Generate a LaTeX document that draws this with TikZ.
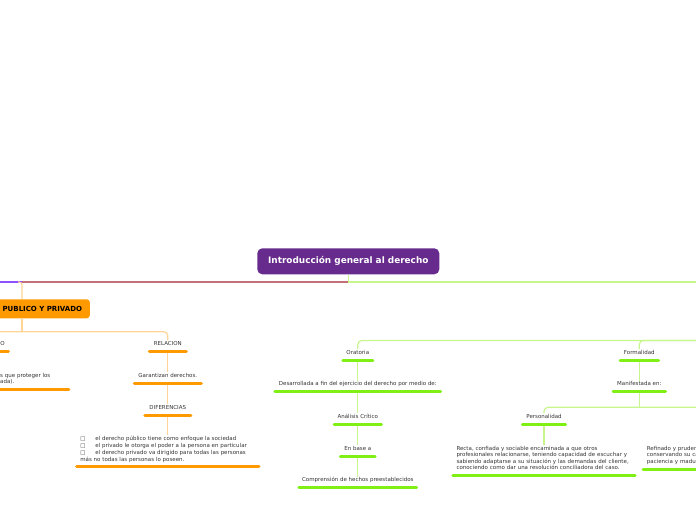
\documentclass[tikz,border=0pt]{standalone}
\usepackage{fontspec}
\setmainfont{DejaVu Sans}
\definecolor{mainpurple}{RGB}{102,43,140}
\definecolor{ulorange}{RGB}{255,153,0}
\definecolor{lorange}{RGB}{255,212,150}
\definecolor{ulgreen}{RGB}{128,240,20}
\definecolor{lgreen}{RGB}{198,246,140}
\definecolor{redline}{RGB}{196,112,122}
\definecolor{violetline}{RGB}{140,82,255}
\definecolor{txt}{RGB}{51,51,51}
\newcommand{\dstrut}{\rule[-4.4pt]{0pt}{0pt}}
\newcommand{\bx}{\makebox[15pt][l]{□}}
\tikzset{
  lbl/.style={font=\fontsize{5.5}{6.6}\selectfont, text=txt, anchor=south, inner xsep=0pt, inner ysep=1.2pt, text height=3.8pt, text depth=4.4pt, align=center},
  para/.style={font=\fontsize{5.5}{#1}\selectfont, text=txt, anchor=south, inner xsep=5pt, inner ysep=1.2pt, align=left},
  oul/.style={append after command={(\tikzlastnode.south west) edge[draw=ulorange, line width=3pt, line cap=round, shorten <=1.5pt, shorten >=1.5pt] (\tikzlastnode.south east)}},
  gul/.style={append after command={(\tikzlastnode.south west) edge[draw=ulgreen, line width=3pt, line cap=round, shorten <=1.5pt, shorten >=1.5pt] (\tikzlastnode.south east)}},
  oconn/.style={draw=lorange, line width=1.2pt},
  gconn/.style={draw=lgreen, line width=1.2pt},
  titlebox/.style={fill=mainpurple, rounded corners=5pt, text=white, font=\bfseries\fontsize{8.9}{10}\selectfont, minimum width=182pt, minimum height=26pt, inner sep=0pt},
  orangebox/.style={fill=ulorange, rounded corners=3pt, text=black, font=\bfseries\fontsize{7}{8}\selectfont, minimum height=19pt, inner xsep=7.7pt, inner ysep=0pt},
}
\begin{document}
\begin{tikzpicture}[x=1pt,y=-1pt]
\useasboundingbox (0,0) rectangle (696,520);
\clip (0,0) rectangle (696,520);

% main
\node[titlebox] (main) at (348.3,261.3) {Introducción general al derecho};
\coordinate (hl) at (0,282);
\coordinate (J) at (main.south |- hl);
\coordinate (K) at (22,282);
\coordinate (Lend) at (-3,282);
\coordinate (Rend) at (700,282);

% orange branch nodes
\node[orangebox, anchor=east] (pp) at (90,308.8) {PUBLICO Y PRIVADO};
\node[lbl, oul, anchor=south east, inner xsep=5pt] (lo) at (10,351.5) {O};
\node[para=6.5, oul, anchor=south west, text width=65pt] (ls) at (-5,389.7) {s que proteger los\\ada).\dstrut};
\node[lbl, oul, minimum width=39.7pt] (rel) at (167.8,351.3) {RELACION};
\node[lbl, oul, minimum width=69.7pt] (gar) at (167.8,383.3) {Garantizan derechos.};
\node[lbl, oul, minimum width=48.7pt] (dif) at (167.8,415.3) {DIFERENCIAS};
\node[para=6.9, oul, text width=175pt] (dl) at (167.8,466.9) {\bx el derecho público tiene como enfoque la sociedad\\\bx el privado le otorga el poder a la persona en particular\\\bx el derecho privado va dirigido para todas las personas\\más no todas las personas lo poseen.\dstrut};

% green branch nodes
\node[lbl, gul, minimum width=32.6pt] (ora) at (357.8,360) {Oratoria};
\node[lbl, gul, minimum width=168.4pt] (des) at (357.8,391.7) {Desarrollada a fin del ejercicio del derecho por medio de:};
\node[lbl, gul, minimum width=50pt] (ana) at (357.8,424.3) {Análisis Crítico};
\node[lbl, gul, minimum width=37.4pt] (enb) at (357.8,456) {En base a};
\node[lbl, gul, minimum width=120.4pt] (com) at (357.8,487.7) {Comprensión de hechos preestablecidos};
\node[lbl, gul, minimum width=41pt] (for) at (639.3,360) {Formalidad};
\node[lbl, gul, minimum width=55pt] (man) at (639.3,391.7) {Manifestada en:};
\node[lbl, gul, minimum width=45.7pt] (per) at (544,424.3) {Personalidad};
\node[para=6.4, gul, text width=175pt] (rec) at (544,475.3) {Recta, confiada y sociable encaminada a que otros\\profesionales relacionarse, teniendo capacidad de escuchar y\\sabiendo adaptarse a su situación y las demandas del cliente,\\conociendo como dar una resolución conciliadora del caso.\dstrut};
\node[para=6.6, gul, anchor=south west, text width=100pt] (rf) at (641.7,469) {Refinado y prudente,\\conservando su calma,\\paciencia y madurez.\dstrut};

% main horizontal line
\draw[gconn] (J) -- (Rend);
\draw[draw=redline, line width=1.2pt] (J) -- (K);
\draw[draw=violetline, line width=1.2pt] (K) -- (Lend);
\draw[gconn] (main.south) -- (J);

% orange connectors
\draw[oconn, rounded corners=3pt] ([shift={(-4,0)}]K) -| (K |- pp.north);
\coordinate (H1) at (22,331.7);
\coordinate (HL) at (-3,331.7);
\draw[oconn] (K |- pp.south) -- (H1);
\draw[oconn, rounded corners=4pt] (HL) -| (rel.north);
\draw[oconn, shorten <=1.5pt] (rel.south) -- (gar.north);
\draw[oconn, shorten <=1.5pt] (gar.south) -- (dif.north);
\draw[oconn, shorten <=1.5pt] (dif.south) -- (dl.north);

% green connectors
\coordinate (G1) at (700,340.5);
\coordinate (G2) at (700,407.3);
\draw[gconn, rounded corners=4pt] (G1) -| (ora.north);
\draw[gconn, rounded corners=4pt] (G1) -| (for.north);
\draw[gconn, shorten <=1.5pt] (ora.south) -- (des.north);
\draw[gconn, shorten <=1.5pt] (des.south) -- (ana.north);
\draw[gconn, shorten <=1.5pt] (ana.south) -- (enb.north);
\draw[gconn, shorten <=1.5pt] (enb.south) -- (com.north);
\draw[gconn, shorten <=1.5pt] (for.south) -- (man.north);
\draw[gconn, shorten <=1.5pt] (man.south) -- (man.south |- G2);
\draw[gconn, rounded corners=4pt] (G2) -| (per.north);
\draw[gconn, shorten <=1.5pt] (per.south) -- (rec.north);
\end{tikzpicture}
\end{document}
